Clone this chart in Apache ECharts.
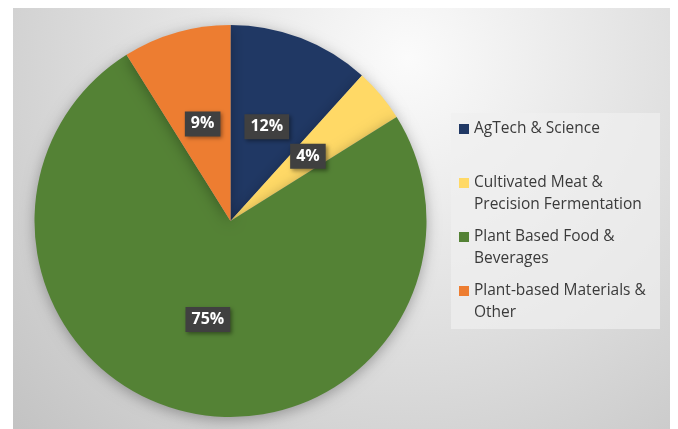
<!DOCTYPE html>
<html>
<head>
<meta charset="utf-8">
<script src="https://cdn.jsdelivr.net/npm/echarts@6/dist/echarts.min.js"></script>
<style>
html,body{margin:0;padding:0;background:#fff;}
#c{width:678px;height:429px;}
</style>
</head>
<body>
<div id="c"></div>
<script>
const categories = ['AgTech & Science', 'Cultivated Meat & Precision Fermentation', 'Plant Based Food & Beverages', 'Plant-based Materials & Other'];
const legendLines = [['AgTech & Science', ' '], ['Cultivated Meat &', 'Precision Fermentation'], ['Plant Based Food &', 'Beverages'], ['Plant-based Materials &', 'Other']];
const values = [11.7, 4.4, 75.0, 8.9];
const colors = ['#203864', '#FFD966', '#548235', '#ED7D31'];

const FONT = 'Open Sans';
const chart = echarts.init(document.getElementById('c'), null, {renderer: 'canvas'});

const rich = {
  g: {width: 5},
  g2: {width: 15},
  t: {fontFamily: FONT, fontSize: 15.5, color: '#3a3a3a', lineHeight: 22}
};
colors.forEach((c, i) => { rich['c' + i] = {width: 10, height: 10, backgroundColor: c}; });

const data = categories.map((n, i) => ({name: n, value: values[i], itemStyle: {color: colors[i]}}));

chart.setOption({
  animation: false,
  graphic: [
    {type: 'rect', z: -10, shape: {x: 13, y: 8, width: 657, height: 421},
     style: {fill: {type: 'radial', x: 0.6, y: 0.12, r: 1.3,
       colorStops: [{offset: 0, color: '#fbfbfb'}, {offset: 0.45, color: '#e2e2e2'}, {offset: 1, color: '#c2c2c2'}]}}},
    {type: 'rect', z: -5, shape: {x: 451, y: 113, width: 209, height: 216},
     style: {fill: 'rgba(240,240,240,0.7)'}}
  ],
  legend: {
    orient: 'vertical',
    left: 454, top: 118,
    padding: 0,
    itemGap: 10,
    itemWidth: 0, itemHeight: 0,
    icon: 'rect',
    selectedMode: false,
    data: categories,
    formatter: function (name) {
      const i = categories.indexOf(name);
      const l = legendLines[i];
      return '{c' + i + '|}{g|}{t|' + l[0] + '}\n{g2|}{t|' + l[1] + '}';
    },
    textStyle: {color: '#3a3a3a', fontFamily: FONT, fontSize: 15.5, lineHeight: 22, rich: rich}
  },
  series: [{
    type: 'pie',
    center: [230.5, 221],
    radius: 196,
    startAngle: 90,
    clockwise: true,
    data: data,
    itemStyle: {borderWidth: 0, shadowBlur: 14, shadowColor: 'rgba(0,0,0,0.3)', shadowOffsetY: 3},
    label: {
      show: true,
      position: 'inside',
      formatter: p => Math.round(p.percent) + '%',
      color: '#ffffff',
      fontFamily: FONT,
      fontWeight: 'bold',
      fontSize: 16,
      backgroundColor: '#404040',
      padding: [5, 6, 4, 6],
      shadowBlur: 4,
      shadowColor: 'rgba(0,0,0,0.4)',
      shadowOffsetX: 2,
      shadowOffsetY: 2
    },
    labelLine: {show: false},
    emphasis: {disabled: true}
  }]
});
</script>
</body>
</html>
